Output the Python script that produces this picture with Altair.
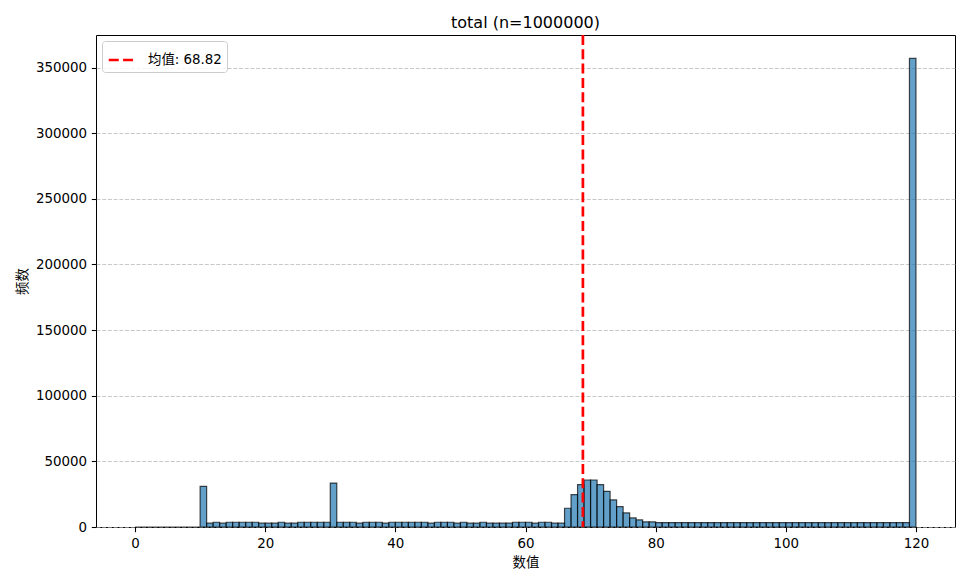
import altair as alt
import pandas as pd

FONT = "DejaVu Sans, Noto Sans CJK SC"

# Histogram bins (left edges, width 1) and counts
bin_starts = list(range(0, 120))
counts = [
    0, 0, 0, 0, 0, 0, 0, 0, 0, 0,                                          # 0-9
    31000, 2900, 3600, 2900, 3600, 3600, 3600, 3600, 3600, 2900,          # 10-19
    2900, 2900, 3600, 2900, 2900, 3600, 3600, 3600, 3600, 3600,           # 20-29
    33500, 3600, 3600, 3600, 2900, 3600, 3600, 3600, 2900, 3600,          # 30-39
    3600, 3600, 3600, 3600, 3600, 2900, 3600, 3600, 3600, 2900,           # 40-49
    3600, 2900, 2900, 3600, 2900, 2900, 2900, 2900, 3600, 3600,           # 50-59
    3600, 2900, 3600, 3600, 2900, 2900, 14300, 24600, 32300, 35800,       # 60-69
    35800, 32300, 27200, 20600, 15500, 10700, 6900, 5400, 3900, 3900,     # 70-79
    3400, 3400, 3400, 3400, 3400, 3400, 3400, 3400, 3400, 3400,           # 80-89
    3400, 3400, 3400, 3400, 3400, 3400, 3400, 3400, 3400, 3400,           # 90-99
    3400, 3400, 3400, 3400, 3400, 3400, 3400, 3400, 3400, 3400,           # 100-109
    3400, 3400, 3400, 3400, 3400, 3400, 3400, 3400, 3400, 357000,         # 110-119
]
bin_width = 1

mean_value = 68.82
mean_label = f"均值: {mean_value:.2f}"

title_text = "total (n=1000000)"
x_title = "数值"
y_title = "频数"

x_ticks = [0, 20, 40, 60, 80, 100, 120]
y_ticks = [0, 50000, 100000, 150000, 200000, 250000, 300000, 350000]

df = pd.DataFrame({
    "start": bin_starts,
    "end": [s + bin_width for s in bin_starts],
    "count": counts,
})
mean_df = pd.DataFrame({"mean": [mean_value], "label": [mean_label]})

W, H = 859, 492

bars = alt.Chart(df).mark_rect(
    fill="#1f77b4", fillOpacity=0.7,
    stroke="black", strokeOpacity=0.7, strokeWidth=1.2,
).encode(
    x=alt.X(
        "start:Q",
        scale=alt.Scale(domain=[-6, 126], nice=False, zero=False),
        axis=alt.Axis(values=x_ticks, title=x_title, grid=False, format="d",
                      titleX=W / 2, titleY=35, titleAnchor="middle",
                      titleBaseline="middle", titleAlign="center"),
    ),
    x2="end:Q",
    y=alt.Y(
        "count:Q",
        scale=alt.Scale(domain=[0, 374850], nice=False),
        axis=alt.Axis(values=y_ticks, title=y_title, format="d", grid=True,
                      gridColor="#b0b0b0", gridOpacity=0.7, gridDash=[4, 1.7],
                      gridWidth=1.07, titleX=-74, titleY=H / 2, titleAngle=270,
                      titleAlign="center", titleBaseline="middle"),
    ),
    y2=alt.datum(0),
)

rule = alt.Chart(mean_df).mark_rule(strokeDash=[10, 4.3], strokeWidth=2.7).encode(
    x="mean:Q",
    color=alt.Color(
        "label:N",
        scale=alt.Scale(range=["#ff0000"]),
        legend=alt.Legend(
            title=None, orient="top-left", offset=6,
            symbolType="stroke", symbolSize=600, symbolStrokeWidth=2.7,
            symbolDash=[10, 4.3], labelFontSize=13.4, labelFont=FONT,
            labelColor="black", labelOffset=13, padding=5,
            fillColor="rgba(255,255,255,0.8)", strokeColor="#cccccc",
            cornerRadius=3,
        ),
    ),
)

chart = alt.layer(bars, rule).properties(
    width=W,
    height=H,
    title=alt.TitleParams(
        title_text, fontSize=16, font=FONT, fontWeight="normal",
        offset=7.5, dy=18, baseline="alphabetic", anchor="middle", color="black",
        frame="group",
    ),
    autosize=alt.AutoSizeParams(type="none"),
    padding={"left": 88, "top": 27, "right": 5, "bottom": 46},
).configure_view(
    stroke="black", strokeWidth=1,
).configure_axis(
    labelFont=FONT, labelFontSize=13.4, labelColor="black",
    tickColor="black", tickSize=4.7, tickWidth=1.07, labelPadding=4.7,
    domain=False, titleFont=FONT, titleFontSize=13.4,
    titleFontWeight="normal", titleColor="black",
)

chart.save("out.html", embed_options={"renderer": "svg", "actions": False})
